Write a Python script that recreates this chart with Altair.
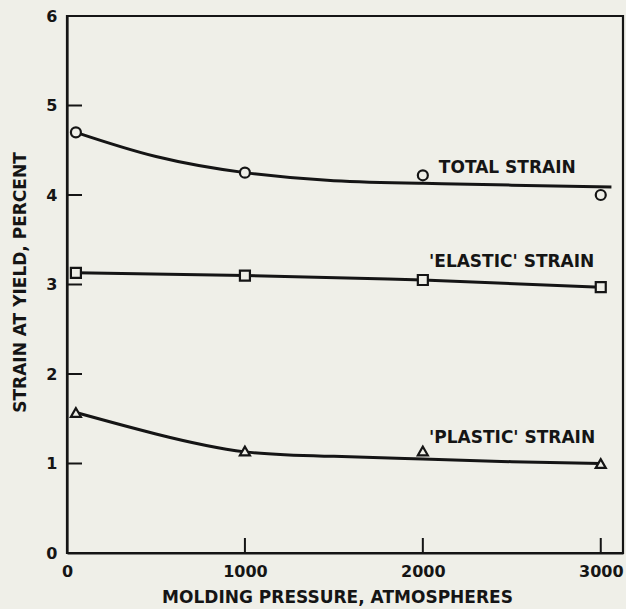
import altair as alt
import pandas as pd

# Measured points (molding pressure in atmospheres, strain at yield in percent)
pressure = [50, 1000, 2000, 3000]
total_strain = [4.70, 4.25, 4.22, 4.00]
elastic_strain = [3.13, 3.10, 3.05, 2.97]
plastic_strain = [1.57, 1.14, 1.14, 1.00]

# Smoothed curves drawn through the data
total_curve_x = [50, 500, 1000, 1500, 2000, 2500, 3060]
total_curve_y = [4.70, 4.43, 4.25, 4.16, 4.13, 4.11, 4.09]
elastic_curve_x = [50, 1000, 2000, 3000]
elastic_curve_y = [3.13, 3.10, 3.05, 2.97]
plastic_curve_x = [50, 500, 1000, 1500, 2000, 2500, 3000]
plastic_curve_y = [1.57, 1.33, 1.13, 1.08, 1.05, 1.02, 1.00]

# Curve labels
label_text = ["TOTAL STRAIN", "'ELASTIC' STRAIN", "'PLASTIC' STRAIN"]
label_x = [2090, 2035, 2035]
label_y = [4.30, 3.25, 1.29]

x_ticks = [1000, 2000, 3000]
y_ticks = [1, 2, 3, 4, 5]

PAPER = "#efefe8"
INK = "#151515"
FONT = "DejaVu Sans"

xs = alt.Scale(domain=[0, 3125], nice=False, zero=False)
ys = alt.Scale(domain=[0, 6], nice=False)

x_axis = alt.Axis(
    values=[0, 1000, 2000, 3000], format="d", tickSize=0, labelPadding=10,
    labelFontSize=16, labelFont=FONT, labelFontWeight="bold", labelColor=INK,
    labelFlush=False, domainColor=INK, domainWidth=2.2, grid=False,
    title="MOLDING PRESSURE, ATMOSPHERES", titleFont=FONT, titleFontSize=17,
    titleFontWeight="bold", titleColor=INK, titleX=270, titleY=44,
    titleBaseline="middle", titleAlign="center",
)
y_axis = alt.Axis(
    values=[0, 1, 2, 3, 4, 5, 6], format="d", tickSize=0, labelPadding=10,
    labelFontSize=16, labelFont=FONT, labelFontWeight="bold", labelColor=INK,
    labelFlush=False, domainColor=INK, domainWidth=2.2, grid=False,
    title="STRAIN AT YIELD, PERCENT", titleFont=FONT, titleFontSize=17,
    titleFontWeight="bold", titleColor=INK, titleX=-47, titleY=266,
    titleBaseline="middle", titleAlign="center",
)

curves = pd.concat([
    pd.DataFrame({"p": total_curve_x, "s": total_curve_y, "series": "total"}),
    pd.DataFrame({"p": elastic_curve_x, "s": elastic_curve_y, "series": "elastic"}),
    pd.DataFrame({"p": plastic_curve_x, "s": plastic_curve_y, "series": "plastic"}),
])
points = pd.concat([
    pd.DataFrame({"p": pressure, "s": total_strain, "series": "total"}),
    pd.DataFrame({"p": pressure, "s": elastic_strain, "series": "elastic"}),
    pd.DataFrame({"p": pressure, "s": plastic_strain, "series": "plastic"}),
])
labels = pd.DataFrame({"text": label_text, "p": label_x, "s": label_y})

base_x = alt.X("p:Q", scale=xs, axis=x_axis)
base_y = alt.Y("s:Q", scale=ys, axis=y_axis)

lines = alt.Chart(curves).mark_line(
    color=INK, strokeWidth=3, interpolate="natural"
).encode(x=base_x, y=base_y, detail="series:N")

shape_scale = alt.Scale(
    domain=["total", "elastic", "plastic"],
    range=["circle", "square", "triangle-up"],
)
size_scale = alt.Scale(
    domain=["total", "elastic", "plastic"], range=[100, 100, 110]
)
marks = alt.Chart(points).mark_point(
    filled=True, fill=PAPER, stroke=INK, strokeWidth=2.2, opacity=1
).encode(
    x=alt.X("p:Q", scale=xs),
    y=alt.Y("s:Q", scale=ys),
    shape=alt.Shape("series:N", scale=shape_scale, legend=None),
    size=alt.Size("series:N", scale=size_scale, legend=None),
)

texts = alt.Chart(labels).mark_text(
    align="left", baseline="middle", font=FONT, fontSize=17,
    fontWeight="bold", color=INK
).encode(x=alt.X("p:Q", scale=xs), y=alt.Y("s:Q", scale=ys), text="text:N")

# Inward tick marks
x_tick_marks = alt.Chart(pd.DataFrame({"p": x_ticks})).mark_rule(
    color=INK, strokeWidth=2
).encode(x=alt.X("p:Q", scale=xs), y=alt.value(537), y2=alt.value(522))
y_tick_marks = alt.Chart(pd.DataFrame({"s": y_ticks})).mark_rule(
    color=INK, strokeWidth=2
).encode(y=alt.Y("s:Q", scale=ys), x=alt.value(0), x2=alt.value(15))

chart = alt.layer(
    x_tick_marks, y_tick_marks, lines, marks, texts
).properties(
    width=556, height=537,
    autosize=alt.AutoSizeParams(type="none"),
    padding={"left": 67, "top": 16, "right": 3, "bottom": 56},
    background=PAPER,
).configure_view(
    stroke=INK, strokeWidth=2.2
)

chart.save("out.html", embed_options={"renderer": "svg", "actions": False})
